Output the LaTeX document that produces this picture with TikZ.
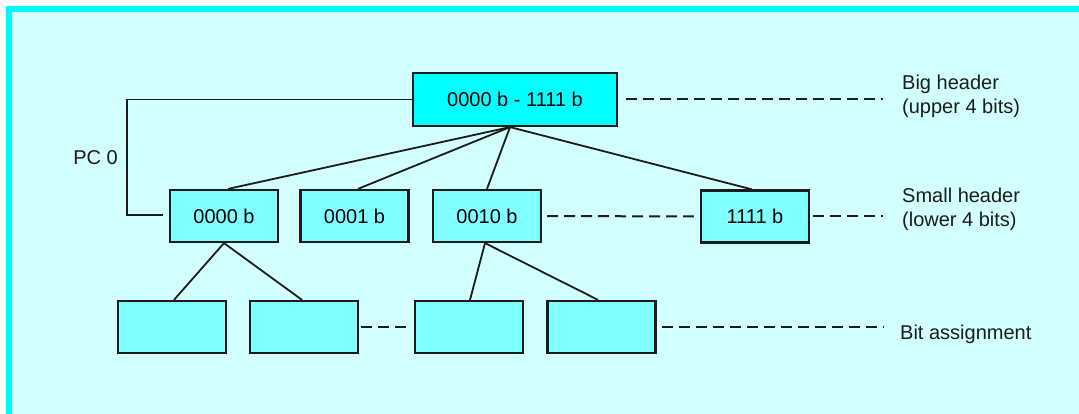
\documentclass[tikz,border=0pt]{standalone}
\usepackage{fontspec}
\setmainfont{Liberation Sans}
\usetikzlibrary{calc}
\definecolor{paneback}{HTML}{D2FFFF}
\definecolor{paneedge}{HTML}{00F8FF}
\definecolor{bigfill}{HTML}{00FFFF}
\definecolor{smallfill}{HTML}{80FFFF}
\definecolor{ink}{HTML}{1C1C1C}
\tikzset{
  bigbox/.style={draw=ink, line width=2.2pt, fill=bigfill, minimum width=204pt, minimum height=53pt, inner sep=0pt},
  hdrbox/.style={draw=ink, line width=2.2pt, fill=smallfill, minimum width=108pt, minimum height=52pt, inner sep=0pt},
  link/.style={draw=ink, line width=1.8pt},
  guide/.style={draw=ink, line width=2pt, dash pattern=on 11pt off 6pt},
  caption/.style={text=ink, inner sep=0pt, align=left, anchor=west},
}
\begin{document}
\begin{tikzpicture}[x=1pt, y=-1pt, font=\fontsize{20}{24}\selectfont]
\useasboundingbox (0,0) rectangle (1079,414);
% panel with its cyan edge along the left and top
\fill[white] (0,0) rectangle (1079,414);
\fill[paneedge] (6,6) rectangle (1079,414);
\fill[paneback] (12,12) rectangle (1079,414);

% header boxes
\node[bigbox] (bh) at (515,99.5) {0000 b - 1111 b};
\node[hdrbox] (b0)  at (224,216) {0000 b};
\node[hdrbox] (b1)  at (354.5,216) {0001 b};
\node[hdrbox] (b2)  at (487,216) {0010 b};
\node[hdrbox] (b15) at (755,216.5) {1111 b};

% bit assignment boxes
\node[hdrbox] (l1) at (172,327) {};
\node[hdrbox] (l2) at (304,327) {};
\node[hdrbox] (l3) at (469,327) {};
\node[hdrbox] (l4) at (601.5,327) {};

% level captions
\node[caption] (capbig) at (902,96.5) {Big header\\(upper 4 bits)};
\node[caption] (capsmall) at (902,209.5) {Small header\\(lower 4 bits)};
\node[caption] (capbit) at (900,334) {Bit assignment};
\node[text=ink, inner sep=0pt, anchor=east] (pc) at (118,158) {PC 0};

% tree links
\coordinate (hub) at ([xshift=-5pt]bh.south);
\draw[link] (hub) -- ([xshift=4pt]b0.north);
\draw[link] (hub) -- ([xshift=3.5pt]b1.north);
\draw[link] (hub) -- (b2.north);
\draw[link] (hub) -- ([xshift=-3pt]b15.north);
\draw[link] (b0.south) -- ([xshift=2pt]l1.north);
\draw[link] (b0.south) -- ([xshift=-2pt]l2.north);
\draw[link] ([xshift=-2pt]b2.south) -- ([xshift=1pt]l3.north);
\draw[link] ([xshift=-2pt]b2.south) -- ([xshift=-3.5pt]l4.north);

% program counter path
\draw[link] (bh.west) -| (127,215) -- ([xshift=-6pt]b0.west |- 0,215);

% dashed guides to the captions
\draw[guide, shorten <=8pt] (bh.east) -- (capbig.west |- bh.east) [shorten >=19pt];
\draw[guide, shorten <=5pt, shorten >=6pt] (b2.east) -- (b15.west);
\draw[guide, shorten <=3pt, shorten >=19pt] (b15.east) -- (capsmall.west |- b15.east);
\draw[guide, shorten <=2pt, shorten >=2pt] (l2.east) -- (l3.west);
\draw[guide, shorten <=5pt, shorten >=16pt] (l4.east) -- (capbit.west |- l4.east);
\end{tikzpicture}
\end{document}
